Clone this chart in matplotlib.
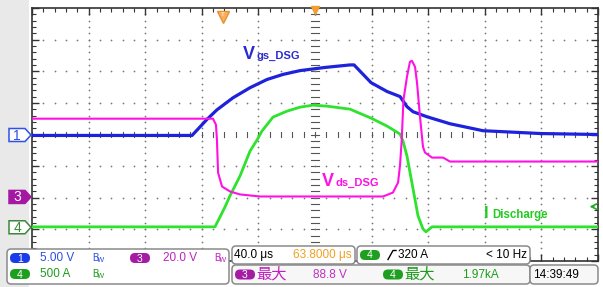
import numpy as np
import matplotlib.pyplot as plt
from matplotlib.patches import FancyBboxPatch, Polygon, Rectangle
from matplotlib import font_manager

# scope settings
CH1_SCALE, CH3_SCALE, CH4_SCALE = 5.0, 20.0, 500.0   # V/div, V/div, A/div
CH1_POS, CH3_POS, CH4_POS = 0.0, -1.96, -2.92        # ground position in div
TIME_DIV = 40.0                                      # us/div

# Ch1: gate-source voltage of the discharge FET (V)
t_vgs = [-200, -86.9, -76.3, -69.3, -58, -45.9, -33.9, -22.6, -10.6, 7, 24.7, 27.6,
         39.6, 50.9, 60.1, 65, 69.3, 79.2, 95.4, 118.7, 159.7, 200]
vgs = [-0.15, -0.15, 2.4, 3.9, 5.8, 7.4, 8.7, 9.5, 10.1, 10.6, 11.0, 11.0,
       8.2, 6.8, 6.0, 4.4, 3.6, 2.8, 1.7, 0.6, 0.15, 0.0]

# Ch3: drain-source voltage (V)
t_vds = [-200, -72.1, -70, -69.3, -68.5, -65.7, -60.1, -53, -38.9, 48.1, 55.1, 58.7,
         60.1, 61.3, 62.5, 65, 67.1, 68.5, 70.7, 72.1, 74.2, 76.3, 77.7, 82.7, 90.5,
         95.4, 200]
vds = [49.2, 49.2, 45.4, 36.0, 15.1, 6.3, 3.2, 1.3, 0.0, 0.0, 2.5, 8.8,
       20.0, 36.0, 61.0, 75.7, 85.2, 85.8, 82.0, 71.9, 50.5, 31.5, 27.8, 24.6, 24.6,
       22.1, 22.1]

# Ch4: discharge current (A)
t_idis = [-200, -70.7, -67.1, -63.6, -60.1, -53, -45.9, -41, -37.5, -29.7, -19.8,
          -10.6, -1.4, 8.5, 24.7, 39.6, 50.9, 60.1, 62.2, 65, 69.3, 72.8, 76.3, 78.4,
          82.7, 200]
idis = [0, 0, 158, 315, 489, 804, 1199, 1372, 1514, 1735, 1829,
        1892, 1924, 1908, 1861, 1719, 1593, 1467, 1356, 1120, 599, 173, -32, -79,
        0, 0]

TRIG_T, TRIG_LEVEL = -65.0, 320.0

names = {f.name for f in font_manager.fontManager.ttflist}
NARROW = 'Liberation Sans Narrow' if 'Liberation Sans Narrow' in names else 'Liberation Sans'
plt.rcParams['font.family'] = ['Liberation Sans', 'Noto Sans CJK SC', 'DejaVu Sans']

BLUE = '#1e22dc'
MAGENTA = '#ff10e4'
GREEN = '#2ee22e'

fig = plt.figure(figsize=(6.03, 2.87), dpi=100)
W, H = 603, 287

# left grey strip
bg = fig.add_axes([0, 0, 1, 1], zorder=0)
bg.set_xlim(0, W)
bg.set_ylim(H, 0)
bg.axis('off')
bg.add_patch(Rectangle((0, 0), 29, H, color='#e9e9e9', lw=0))

ax = fig.add_axes([32 / W, (H - 261) / H, 566 / W, 253 / H], zorder=1)
ax.set_xlim(-200, 200)
ax.set_ylim(-4, 4)
ax.set_facecolor('white')

# graticule
dot = dict(color='#7a7a7a', s=1.6, lw=0, zorder=1)
for gx in np.arange(-160, 161, 40):
    yy = np.arange(-4, 4.01, 0.2)
    if gx == 0:
        for y in yy:
            ax.plot([-2.5, 2.5], [y, y], color='#555555', lw=0.8, zorder=1)
    else:
        ax.scatter(np.full_like(yy, gx), yy, **dot)
for gy in np.arange(-3, 3.01, 1):
    xx = np.arange(-200, 200.1, 8)
    if gy == 0:
        for x in xx:
            ax.plot([x, x], [-0.07, 0.07], color='#555555', lw=0.8, zorder=1)
    else:
        ax.scatter(xx, np.full_like(xx, gy), **dot)

ax.set_xticks(np.arange(-200, 201, 40))
ax.set_yticks(np.arange(-4, 4.1, 1))
ax.set_xticks(np.arange(-200, 201, 8), minor=True)
ax.set_yticks(np.arange(-4, 4.1, 0.2), minor=True)
ax.tick_params(which='both', direction='in', top=True, right=True,
               labelbottom=False, labelleft=False, color='#333333')
ax.tick_params(which='major', length=5, width=1)
ax.tick_params(which='minor', length=3, width=0.8)
for s in ax.spines.values():
    s.set_color('#333333')
    s.set_linewidth(1.2)

# traces
ax.plot(t_vgs, np.array(vgs) / CH1_SCALE + CH1_POS, color=BLUE, lw=2.3, zorder=4)
ax.plot(t_idis, np.array(idis) / CH4_SCALE + CH4_POS, color=GREEN, lw=2.0, zorder=3)
ax.plot(t_vds, np.array(vds) / CH3_SCALE + CH3_POS, color=MAGENTA, lw=1.5, zorder=5)

# trigger markers
ax.plot([TRIG_T], [3.72], marker='v', ms=8, color='#f6b060', mec='#e89030',
        clip_on=False, zorder=6)
ax.text(TRIG_T, 3.78, 'T', fontsize=4.5, color='white', ha='center', va='center',
        zorder=7)
ax.plot([0], [3.93], marker='v', ms=6, color='#f0a030', clip_on=False, zorder=6)
ax.annotate('', xy=(192, TRIG_LEVEL / CH4_SCALE + CH4_POS),
            xytext=(199, TRIG_LEVEL / CH4_SCALE + CH4_POS),
            arrowprops=dict(arrowstyle='->', color='#22b022', lw=1.2), zorder=6)

# trace labels
ax.text(-51, 2.4, 'V', color='#2a2ad0', fontsize=13, fontweight='bold', va='baseline')
ax.text(-41, 2.4, 'gs_DSG', color='#2a2ad0', fontsize=8, fontweight='bold', va='baseline')
ax.text(5, -1.63, 'V', color=MAGENTA, fontsize=13, fontweight='bold', va='baseline')
ax.text(14.5, -1.63, 'ds_DSG', color=MAGENTA, fontsize=8, fontweight='bold', va='baseline')
ax.text(119, -2.63, 'I', color='#22cc22', fontsize=12, fontweight='bold', va='baseline')
ax.text(125, -2.63, 'Discharge', color='#22cc22', fontsize=8.3, fontweight='bold', va='baseline')

# overlay for channel markers and status panel
ov = fig.add_axes([0, 0, 1, 1], zorder=10)
ov.set_xlim(0, W)
ov.set_ylim(H, 0)
ov.axis('off')
ov.patch.set_alpha(0)


def marker(yc, label, edge, face, tc):
    pts = [(9, yc - 6.5), (25, yc - 6.5), (31, yc), (25, yc + 6.5), (9, yc + 6.5)]
    ov.add_patch(Polygon(pts, closed=True, fc=face, ec=edge, lw=1.1))
    ov.text(17, yc + 0.5, label, color=tc, fontsize=10, ha='center', va='center')


marker(135 - CH1_POS * 31.6, '1', '#3050e8', 'white', '#3050e8')
marker(135 - CH3_POS * 31.6, '3', '#a418a4', '#a418a4', 'white')
marker(135 - CH4_POS * 31.6, '4', '#3a8a3a', 'white', '#3a8a3a')


def box(x0, y0, x1, y1, fc='white'):
    ov.add_patch(FancyBboxPatch((x0, y0), x1 - x0, y1 - y0,
                                boxstyle='round,pad=0,rounding_size=4',
                                fc=fc, ec='#8a8a8a', lw=1.1))


def badge(x0, yc, label, color):
    ov.add_patch(FancyBboxPatch((x0, yc - 5), 20, 10,
                                boxstyle='round,pad=0,rounding_size=5',
                                fc=color, ec='none'))
    ov.text(x0 + 10, yc + 0.5, label, color='white', fontsize=7.5,
            ha='center', va='center', family=NARROW)


def txt(x, y, s, color, size=8.5, ha='left', family=None):
    ov.text(x, y, s, color=color, fontsize=size, ha=ha, va='center',
            family=family or [NARROW, 'Noto Sans CJK SC', 'DejaVu Sans'])


def bw(x, y, color):
    ov.text(x, y, 'B', color=color, fontsize=7, va='center', family=NARROW)
    ov.text(x + 5, y + 2, 'W', color=color, fontsize=5.5, va='center', family=NARROW)


box(7, 249, 229, 284)
badge(10, 258, '1', '#1a3ce8')
txt(40, 258, '5.00 V', '#2c4de0')
bw(92, 258, '#2c4de0')
badge(130, 258, '3', '#a41ca4')
txt(163, 258, '20.0 V', '#c020c0')
bw(214, 258, '#c020c0')
badge(10, 274, '4', '#1f9f1f')
txt(40, 274, '500 A', '#1c9c1c')
bw(92, 274, '#1c9c1c')

box(232, 246, 355, 264)
txt(234, 255, '40.0 \u03bcs', 'black')
txt(352, 255, '63.8000 \u03bcs', '#f0a020', ha='right')
box(357, 246, 530, 264)
badge(360, 255, '4', '#1f9f1f')
ov.plot([388, 393, 396], [259.5, 250.5, 250.5], color='black', lw=1)
txt(398, 255, '320 A', 'black')
txt(527, 255, '< 10 Hz', 'black', ha='right')

box(232, 265, 530, 284, fc='#f7f7f7')
badge(235, 274.5, '3', '#a41ca4')
txt(256, 274.5, '\u6700\u5927', '#c020c0', size=11, family=['Noto Sans CJK SC'])
txt(313, 274.5, '88.8 V', '#c030c0')
badge(383, 274.5, '4', '#1f9f1f')
txt(404, 274.5, '\u6700\u5927', '#1c9c1c', size=11, family=['Noto Sans CJK SC'])
txt(462, 274.5, '1.97kA', '#1c9c1c')
box(530, 265, 598, 284, fc='#f7f7f7')
txt(533, 274.5, '14:39:49', 'black')

fig.savefig('out.png', dpi=100, facecolor='white')
